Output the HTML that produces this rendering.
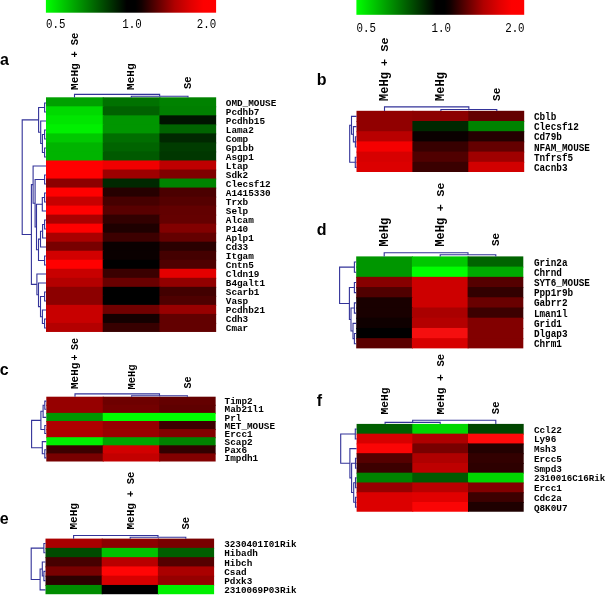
<!DOCTYPE html>
<html><head><meta charset="utf-8"><title>heatmaps</title>
<style>
html,body{margin:0;padding:0;background:#fff;}
svg{display:block;}
.rl{font-family:"Liberation Mono",monospace;font-weight:bold;fill:#000;}
.cl{font-family:"Liberation Mono",monospace;font-weight:bold;fill:#000;}
.tk{font-family:"Liberation Mono",monospace;fill:#000;}
.pl{font-family:"Liberation Sans",sans-serif;font-weight:bold;fill:#000;}
.dn path{fill:none;stroke:#333399;stroke-width:1.1;}
</style></head><body>
<svg width="605" height="595" viewBox="0 0 605 595">
<rect x="0" y="0" width="605" height="595" fill="#fff"/>
<defs><linearGradient id="g" x1="0" x2="1" y1="0" y2="0"><stop offset="0.000" stop-color="#00ff00"/><stop offset="0.475" stop-color="#000000"/><stop offset="0.525" stop-color="#000000"/><stop offset="0.562" stop-color="#120000"/><stop offset="0.660" stop-color="#620000"/><stop offset="0.757" stop-color="#b00000"/><stop offset="0.853" stop-color="#e10000"/><stop offset="0.925" stop-color="#fd0000"/><stop offset="1.000" stop-color="#ff0000"/></linearGradient></defs>
<rect x="45.9" y="0" width="170.2" height="12.7" fill="url(#g)"/>
<rect x="356.4" y="0" width="167.8" height="14.8" fill="url(#g)"/>
<text class="tk" transform="translate(46.10 28.20) scale(1 1.100)" font-size="10.80" text-anchor="start">0.5</text>
<text class="tk" transform="translate(132.00 28.20) scale(1 1.100)" font-size="10.80" text-anchor="middle">1.0</text>
<text class="tk" transform="translate(216.20 28.20) scale(1 1.100)" font-size="10.80" text-anchor="end">2.0</text>
<text class="tk" transform="translate(356.60 31.80) scale(1 1.230)" font-size="10.80" text-anchor="start">0.5</text>
<text class="tk" transform="translate(441.20 31.80) scale(1 1.230)" font-size="10.80" text-anchor="middle">1.0</text>
<text class="tk" transform="translate(524.60 31.80) scale(1 1.230)" font-size="10.80" text-anchor="end">2.0</text>
<rect x="46.00" y="97.30" width="57.72" height="10.03" fill="#00a000"/>
<rect x="102.72" y="97.30" width="57.72" height="10.03" fill="#007200"/>
<rect x="159.44" y="97.30" width="56.72" height="10.03" fill="#008200"/>
<rect x="46.00" y="106.33" width="57.72" height="10.03" fill="#00da00"/>
<rect x="102.72" y="106.33" width="57.72" height="10.03" fill="#006100"/>
<rect x="159.44" y="106.33" width="56.72" height="10.03" fill="#007f00"/>
<rect x="46.00" y="115.35" width="57.72" height="10.03" fill="#00e600"/>
<rect x="102.72" y="115.35" width="57.72" height="10.03" fill="#009600"/>
<rect x="159.44" y="115.35" width="56.72" height="10.03" fill="#001400"/>
<rect x="46.00" y="124.38" width="57.72" height="10.03" fill="#00f000"/>
<rect x="102.72" y="124.38" width="57.72" height="10.03" fill="#009600"/>
<rect x="159.44" y="124.38" width="56.72" height="10.03" fill="#006400"/>
<rect x="46.00" y="133.40" width="57.72" height="10.03" fill="#00c800"/>
<rect x="102.72" y="133.40" width="57.72" height="10.03" fill="#006e00"/>
<rect x="159.44" y="133.40" width="56.72" height="10.03" fill="#002800"/>
<rect x="46.00" y="142.43" width="57.72" height="10.03" fill="#00b400"/>
<rect x="102.72" y="142.43" width="57.72" height="10.03" fill="#006400"/>
<rect x="159.44" y="142.43" width="56.72" height="10.03" fill="#003c00"/>
<rect x="46.00" y="151.45" width="57.72" height="10.03" fill="#00b400"/>
<rect x="102.72" y="151.45" width="57.72" height="10.03" fill="#005a00"/>
<rect x="159.44" y="151.45" width="56.72" height="10.03" fill="#003700"/>
<rect x="46.00" y="160.47" width="57.72" height="10.03" fill="#ff0000"/>
<rect x="102.72" y="160.47" width="57.72" height="10.03" fill="#f00000"/>
<rect x="159.44" y="160.47" width="56.72" height="10.03" fill="#be0000"/>
<rect x="46.00" y="169.50" width="57.72" height="10.03" fill="#ff0000"/>
<rect x="102.72" y="169.50" width="57.72" height="10.03" fill="#9e0000"/>
<rect x="159.44" y="169.50" width="56.72" height="10.03" fill="#800000"/>
<rect x="46.00" y="178.53" width="57.72" height="10.03" fill="#8c0000"/>
<rect x="102.72" y="178.53" width="57.72" height="10.03" fill="#002800"/>
<rect x="159.44" y="178.53" width="56.72" height="10.03" fill="#008400"/>
<rect x="46.00" y="187.55" width="57.72" height="10.03" fill="#ff0000"/>
<rect x="102.72" y="187.55" width="57.72" height="10.03" fill="#260000"/>
<rect x="159.44" y="187.55" width="56.72" height="10.03" fill="#4b0000"/>
<rect x="46.00" y="196.57" width="57.72" height="10.03" fill="#c80000"/>
<rect x="102.72" y="196.57" width="57.72" height="10.03" fill="#460000"/>
<rect x="159.44" y="196.57" width="56.72" height="10.03" fill="#550000"/>
<rect x="46.00" y="205.60" width="57.72" height="10.03" fill="#ff0000"/>
<rect x="102.72" y="205.60" width="57.72" height="10.03" fill="#580000"/>
<rect x="159.44" y="205.60" width="56.72" height="10.03" fill="#620000"/>
<rect x="46.00" y="214.62" width="57.72" height="10.03" fill="#aa0000"/>
<rect x="102.72" y="214.62" width="57.72" height="10.03" fill="#320000"/>
<rect x="159.44" y="214.62" width="56.72" height="10.03" fill="#640000"/>
<rect x="46.00" y="223.65" width="57.72" height="10.03" fill="#ff0000"/>
<rect x="102.72" y="223.65" width="57.72" height="10.03" fill="#1e0000"/>
<rect x="159.44" y="223.65" width="56.72" height="10.03" fill="#820000"/>
<rect x="46.00" y="232.68" width="57.72" height="10.03" fill="#aa0000"/>
<rect x="102.72" y="232.68" width="57.72" height="10.03" fill="#3c0000"/>
<rect x="159.44" y="232.68" width="56.72" height="10.03" fill="#640000"/>
<rect x="46.00" y="241.70" width="57.72" height="10.03" fill="#780000"/>
<rect x="102.72" y="241.70" width="57.72" height="10.03" fill="#0a0000"/>
<rect x="159.44" y="241.70" width="56.72" height="10.03" fill="#2a0000"/>
<rect x="46.00" y="250.73" width="57.72" height="10.03" fill="#d20000"/>
<rect x="102.72" y="250.73" width="57.72" height="10.03" fill="#0a0000"/>
<rect x="159.44" y="250.73" width="56.72" height="10.03" fill="#440000"/>
<rect x="46.00" y="259.75" width="57.72" height="10.03" fill="#ff0000"/>
<rect x="102.72" y="259.75" width="57.72" height="10.03" fill="#000000"/>
<rect x="159.44" y="259.75" width="56.72" height="10.03" fill="#4e0000"/>
<rect x="46.00" y="268.77" width="57.72" height="10.03" fill="#c80000"/>
<rect x="102.72" y="268.77" width="57.72" height="10.03" fill="#3a0000"/>
<rect x="159.44" y="268.77" width="56.72" height="10.03" fill="#e40000"/>
<rect x="46.00" y="277.80" width="57.72" height="10.03" fill="#b40000"/>
<rect x="102.72" y="277.80" width="57.72" height="10.03" fill="#690000"/>
<rect x="159.44" y="277.80" width="56.72" height="10.03" fill="#920000"/>
<rect x="46.00" y="286.82" width="57.72" height="10.03" fill="#8c0000"/>
<rect x="102.72" y="286.82" width="57.72" height="10.03" fill="#000000"/>
<rect x="159.44" y="286.82" width="56.72" height="10.03" fill="#420000"/>
<rect x="46.00" y="295.85" width="57.72" height="10.03" fill="#8c0000"/>
<rect x="102.72" y="295.85" width="57.72" height="10.03" fill="#000000"/>
<rect x="159.44" y="295.85" width="56.72" height="10.03" fill="#4e0000"/>
<rect x="46.00" y="304.88" width="57.72" height="10.03" fill="#c80000"/>
<rect x="102.72" y="304.88" width="57.72" height="10.03" fill="#700000"/>
<rect x="159.44" y="304.88" width="56.72" height="10.03" fill="#980000"/>
<rect x="46.00" y="313.90" width="57.72" height="10.03" fill="#c80000"/>
<rect x="102.72" y="313.90" width="57.72" height="10.03" fill="#140000"/>
<rect x="159.44" y="313.90" width="56.72" height="10.03" fill="#620000"/>
<rect x="46.00" y="322.93" width="57.72" height="9.03" fill="#b40000"/>
<rect x="102.72" y="322.93" width="57.72" height="9.03" fill="#370000"/>
<rect x="159.44" y="322.93" width="56.72" height="9.03" fill="#620000"/>
<text class="rl" transform="translate(225.80 105.62) scale(1 1.000)" font-size="9.35">OMD_MOUSE</text>
<text class="rl" transform="translate(225.80 114.65) scale(1 1.000)" font-size="9.35">Pcdhb7</text>
<text class="rl" transform="translate(225.80 123.67) scale(1 1.000)" font-size="9.35">Pcdhb15</text>
<text class="rl" transform="translate(225.80 132.70) scale(1 1.000)" font-size="9.35">Lama2</text>
<text class="rl" transform="translate(225.80 141.73) scale(1 1.000)" font-size="9.35">Comp</text>
<text class="rl" transform="translate(225.80 150.75) scale(1 1.000)" font-size="9.35">Gp1bb</text>
<text class="rl" transform="translate(225.80 159.78) scale(1 1.000)" font-size="9.35">Asgp1</text>
<text class="rl" transform="translate(225.80 168.80) scale(1 1.000)" font-size="9.35">Ltap</text>
<text class="rl" transform="translate(225.80 177.83) scale(1 1.000)" font-size="9.35">Sdk2</text>
<text class="rl" transform="translate(225.80 186.85) scale(1 1.000)" font-size="9.35">Clecsf12</text>
<text class="rl" transform="translate(225.80 195.88) scale(1 1.000)" font-size="9.35">A1415330</text>
<text class="rl" transform="translate(225.80 204.90) scale(1 1.000)" font-size="9.35">Trxb</text>
<text class="rl" transform="translate(225.80 213.93) scale(1 1.000)" font-size="9.35">Selp</text>
<text class="rl" transform="translate(225.80 222.95) scale(1 1.000)" font-size="9.35">Alcam</text>
<text class="rl" transform="translate(225.80 231.98) scale(1 1.000)" font-size="9.35">P140</text>
<text class="rl" transform="translate(225.80 241.00) scale(1 1.000)" font-size="9.35">Aplp1</text>
<text class="rl" transform="translate(225.80 250.03) scale(1 1.000)" font-size="9.35">Cd33</text>
<text class="rl" transform="translate(225.80 259.05) scale(1 1.000)" font-size="9.35">Itgam</text>
<text class="rl" transform="translate(225.80 268.07) scale(1 1.000)" font-size="9.35">Cntn5</text>
<text class="rl" transform="translate(225.80 277.10) scale(1 1.000)" font-size="9.35">Cldn19</text>
<text class="rl" transform="translate(225.80 286.12) scale(1 1.000)" font-size="9.35">B4galt1</text>
<text class="rl" transform="translate(225.80 295.15) scale(1 1.000)" font-size="9.35">Scarb1</text>
<text class="rl" transform="translate(225.80 304.18) scale(1 1.000)" font-size="9.35">Vasp</text>
<text class="rl" transform="translate(225.80 313.20) scale(1 1.000)" font-size="9.35">Pcdhb21</text>
<text class="rl" transform="translate(225.80 322.23) scale(1 1.000)" font-size="9.35">Cdh3</text>
<text class="rl" transform="translate(225.80 331.25) scale(1 1.000)" font-size="9.35">Cmar</text>
<g class="dn">
<path d="M46.00 103.00H44.60V112.00H46.00"/>
<path d="M46.00 130.00H44.60V139.00H46.00"/>
<path d="M46.00 148.00H44.60V157.00H46.00"/>
<path d="M44.60 134.50H42.40V152.50H44.60"/>
<path d="M46.00 121.00H40.70V143.50H42.40"/>
<path d="M44.60 107.50H38.60V132.25H40.70"/>
<path d="M46.00 175.00H44.60V184.00H46.00"/>
<path d="M46.00 193.00H44.60V202.00H46.00"/>
<path d="M44.60 197.50H42.30V211.00H46.00"/>
<path d="M46.00 220.00H44.60V229.00H46.00"/>
<path d="M44.60 224.50H42.60V238.00H46.00"/>
<path d="M42.60 231.25H40.50V247.00H46.00"/>
<path d="M46.00 256.00H44.60V265.00H46.00"/>
<path d="M40.50 239.12H38.50V260.50H44.60"/>
<path d="M42.30 204.25H36.50V249.81H38.50"/>
<path d="M44.60 179.50H35.10V227.03H36.50"/>
<path d="M46.00 166.00H33.10V203.27H35.10"/>
<path d="M46.00 292.00H44.60V301.00H46.00"/>
<path d="M46.00 319.00H44.60V328.00H46.00"/>
<path d="M46.00 310.00H42.40V323.50H44.60"/>
<path d="M44.60 296.50H40.50V316.75H42.40"/>
<path d="M46.00 283.00H38.50V306.62H40.50"/>
<path d="M46.00 274.00H36.90V294.81H38.50"/>
<path d="M33.10 184.63H31.40V284.41H36.90"/>
<path d="M38.60 119.88H22.20V234.52H31.40"/>
<path d="M131.30 97.40V96.20H188.00V97.40"/>
<path d="M74.50 97.40V94.40H159.65V96.20"/>
</g>
<text class="cl" font-size="11.10" transform="translate(77.80 89.90) rotate(-90)" >MeHg</text>
<text class="cl" font-size="10.60" transform="translate(77.80 57.50) rotate(-90)" >+</text>
<text class="cl" font-size="10.60" transform="translate(77.80 45.30) rotate(-90)" >Se</text>
<text class="cl" font-size="11.00" transform="translate(134.00 89.90) rotate(-90)" >MeHg</text>
<text class="cl" font-size="10.60" transform="translate(191.40 89.00) rotate(-90)" >Se</text>
<text class="pl" x="-0.10" y="65.00" font-size="16.00">a</text>
<rect x="356.50" y="110.80" width="56.90" height="11.20" fill="#910000"/>
<rect x="412.40" y="110.80" width="56.90" height="11.20" fill="#8c0000"/>
<rect x="468.30" y="110.80" width="55.90" height="11.20" fill="#640000"/>
<rect x="356.50" y="121.00" width="56.90" height="11.20" fill="#910000"/>
<rect x="412.40" y="121.00" width="56.90" height="11.20" fill="#002800"/>
<rect x="468.30" y="121.00" width="55.90" height="11.20" fill="#008200"/>
<rect x="356.50" y="131.20" width="56.90" height="11.20" fill="#b90000"/>
<rect x="412.40" y="131.20" width="56.90" height="11.20" fill="#0a0000"/>
<rect x="468.30" y="131.20" width="55.90" height="11.20" fill="#240000"/>
<rect x="356.50" y="141.40" width="56.90" height="11.20" fill="#f50000"/>
<rect x="412.40" y="141.40" width="56.90" height="11.20" fill="#370000"/>
<rect x="468.30" y="141.40" width="55.90" height="11.20" fill="#640000"/>
<rect x="356.50" y="151.60" width="56.90" height="11.20" fill="#d70000"/>
<rect x="412.40" y="151.60" width="56.90" height="11.20" fill="#500000"/>
<rect x="468.30" y="151.60" width="55.90" height="11.20" fill="#a00000"/>
<rect x="356.50" y="161.80" width="56.90" height="10.20" fill="#dc0000"/>
<rect x="412.40" y="161.80" width="56.90" height="10.20" fill="#3a0000"/>
<rect x="468.30" y="161.80" width="55.90" height="10.20" fill="#d20000"/>
<text class="rl" transform="translate(533.90 119.90) scale(1 1.080)" font-size="9.35">Cblb</text>
<text class="rl" transform="translate(533.90 130.10) scale(1 1.080)" font-size="9.35">Clecsf12</text>
<text class="rl" transform="translate(533.90 140.30) scale(1 1.080)" font-size="9.35">Cd79b</text>
<text class="rl" transform="translate(533.90 150.50) scale(1 1.080)" font-size="9.35">NFAM_MOUSE</text>
<text class="rl" transform="translate(533.90 160.70) scale(1 1.080)" font-size="9.35">Tnfrsf5</text>
<text class="rl" transform="translate(533.90 170.90) scale(1 1.080)" font-size="9.35">Cacnb3</text>
<g class="dn">
<path d="M356.50 136.80H355.40V147.00H356.50"/>
<path d="M356.50 126.60H353.40V141.90H355.40"/>
<path d="M356.50 116.40H351.50V134.25H353.40"/>
<path d="M356.50 157.20H355.30V167.40H356.50"/>
<path d="M351.50 125.32H349.70V162.30H355.30"/>
<path d="M440.90 110.90V109.50H496.80V110.90"/>
<path d="M384.50 110.90V106.90H468.85V109.50"/>
</g>
<text class="cl" font-size="12.00" transform="translate(387.80 100.90) rotate(-90)" >MeHg</text>
<text class="cl" font-size="11.60" transform="translate(387.80 66.00) rotate(-90)" >+</text>
<text class="cl" font-size="11.60" transform="translate(387.80 51.50) rotate(-90)" >Se</text>
<text class="cl" font-size="12.00" transform="translate(443.60 100.90) rotate(-90)" >MeHg</text>
<text class="cl" font-size="11.10" transform="translate(500.00 101.00) rotate(-90)" >Se</text>
<text class="pl" x="316.70" y="84.60" font-size="16.00">b</text>
<rect x="46.30" y="396.70" width="57.45" height="9.10" fill="#960000"/>
<rect x="102.75" y="396.70" width="57.45" height="9.10" fill="#6e0000"/>
<rect x="159.20" y="396.70" width="56.45" height="9.10" fill="#640000"/>
<rect x="46.30" y="404.80" width="57.45" height="9.10" fill="#960000"/>
<rect x="102.75" y="404.80" width="57.45" height="9.10" fill="#730000"/>
<rect x="159.20" y="404.80" width="56.45" height="9.10" fill="#5f0000"/>
<rect x="46.30" y="412.90" width="57.45" height="9.10" fill="#009600"/>
<rect x="102.75" y="412.90" width="57.45" height="9.10" fill="#00ff00"/>
<rect x="159.20" y="412.90" width="56.45" height="9.10" fill="#00ff00"/>
<rect x="46.30" y="421.00" width="57.45" height="9.10" fill="#af0000"/>
<rect x="102.75" y="421.00" width="57.45" height="9.10" fill="#960000"/>
<rect x="159.20" y="421.00" width="56.45" height="9.10" fill="#3c0000"/>
<rect x="46.30" y="429.10" width="57.45" height="9.10" fill="#af0000"/>
<rect x="102.75" y="429.10" width="57.45" height="9.10" fill="#9b0000"/>
<rect x="159.20" y="429.10" width="56.45" height="9.10" fill="#820000"/>
<rect x="46.30" y="437.20" width="57.45" height="9.10" fill="#00f000"/>
<rect x="102.75" y="437.20" width="57.45" height="9.10" fill="#00a500"/>
<rect x="159.20" y="437.20" width="56.45" height="9.10" fill="#008200"/>
<rect x="46.30" y="445.30" width="57.45" height="9.10" fill="#3c0000"/>
<rect x="102.75" y="445.30" width="57.45" height="9.10" fill="#d20000"/>
<rect x="159.20" y="445.30" width="56.45" height="9.10" fill="#320000"/>
<rect x="46.30" y="453.40" width="57.45" height="8.10" fill="#780000"/>
<rect x="102.75" y="453.40" width="57.45" height="8.10" fill="#c30000"/>
<rect x="159.20" y="453.40" width="56.45" height="8.10" fill="#820000"/>
<text class="rl" transform="translate(224.60 404.30) scale(1 0.900)" font-size="9.35">Timp2</text>
<text class="rl" transform="translate(224.60 412.40) scale(1 0.900)" font-size="9.35">Mab21l1</text>
<text class="rl" transform="translate(224.60 420.50) scale(1 0.900)" font-size="9.35">Prl</text>
<text class="rl" transform="translate(224.60 428.60) scale(1 0.900)" font-size="9.35">MET_MOUSE</text>
<text class="rl" transform="translate(224.60 436.70) scale(1 0.900)" font-size="9.35">Ercc1</text>
<text class="rl" transform="translate(224.60 444.80) scale(1 0.900)" font-size="9.35">Scap2</text>
<text class="rl" transform="translate(224.60 452.90) scale(1 0.900)" font-size="9.35">Pax6</text>
<text class="rl" transform="translate(224.60 461.00) scale(1 0.900)" font-size="9.35">Impdh1</text>
<g class="dn">
<path d="M46.30 401.15H44.80V409.25H46.30"/>
<path d="M44.80 405.20H43.10V417.35H46.30"/>
<path d="M46.30 425.45H44.80V433.55H46.30"/>
<path d="M43.10 411.27H40.90V429.50H44.80"/>
<path d="M46.30 449.75H44.80V457.85H46.30"/>
<path d="M46.30 441.65H42.30V453.80H44.80"/>
<path d="M40.90 420.39H31.60V447.72H42.30"/>
<path d="M131.60 396.80V395.70H187.40V396.80"/>
<path d="M75.00 396.80V393.90H159.50V395.70"/>
</g>
<text class="cl" font-size="11.00" transform="translate(78.00 389.00) rotate(-90)" >MeHg</text>
<text class="cl" font-size="10.20" transform="translate(78.00 360.40) rotate(-90)" >+</text>
<text class="cl" font-size="10.20" transform="translate(78.00 350.00) rotate(-90)" >Se</text>
<text class="cl" font-size="10.40" transform="translate(134.80 389.40) rotate(-90)" >MeHg</text>
<text class="cl" font-size="10.20" transform="translate(191.20 388.60) rotate(-90)" >Se</text>
<text class="pl" x="-0.20" y="374.70" font-size="16.00">c</text>
<rect x="356.20" y="256.40" width="56.70" height="11.22" fill="#009600"/>
<rect x="411.90" y="256.40" width="56.70" height="11.22" fill="#00c800"/>
<rect x="467.60" y="256.40" width="55.70" height="11.22" fill="#006400"/>
<rect x="356.20" y="266.62" width="56.70" height="11.22" fill="#009600"/>
<rect x="411.90" y="266.62" width="56.70" height="11.22" fill="#00ff00"/>
<rect x="467.60" y="266.62" width="55.70" height="11.22" fill="#00aa00"/>
<rect x="356.20" y="276.84" width="56.70" height="11.22" fill="#870000"/>
<rect x="411.90" y="276.84" width="56.70" height="11.22" fill="#cd0000"/>
<rect x="467.60" y="276.84" width="55.70" height="11.22" fill="#550000"/>
<rect x="356.20" y="287.06" width="56.70" height="11.22" fill="#500000"/>
<rect x="411.90" y="287.06" width="56.70" height="11.22" fill="#cd0000"/>
<rect x="467.60" y="287.06" width="55.70" height="11.22" fill="#320000"/>
<rect x="356.20" y="297.28" width="56.70" height="11.22" fill="#190000"/>
<rect x="411.90" y="297.28" width="56.70" height="11.22" fill="#cd0000"/>
<rect x="467.60" y="297.28" width="55.70" height="11.22" fill="#690000"/>
<rect x="356.20" y="307.50" width="56.70" height="11.22" fill="#190000"/>
<rect x="411.90" y="307.50" width="56.70" height="11.22" fill="#aa0000"/>
<rect x="467.60" y="307.50" width="55.70" height="11.22" fill="#3c0000"/>
<rect x="356.20" y="317.72" width="56.70" height="11.22" fill="#0f0000"/>
<rect x="411.90" y="317.72" width="56.70" height="11.22" fill="#b40000"/>
<rect x="467.60" y="317.72" width="55.70" height="11.22" fill="#820000"/>
<rect x="356.20" y="327.94" width="56.70" height="11.22" fill="#000000"/>
<rect x="411.90" y="327.94" width="56.70" height="11.22" fill="#f50f0f"/>
<rect x="467.60" y="327.94" width="55.70" height="11.22" fill="#820000"/>
<rect x="356.20" y="338.16" width="56.70" height="10.22" fill="#5a0000"/>
<rect x="411.90" y="338.16" width="56.70" height="10.22" fill="#d70000"/>
<rect x="467.60" y="338.16" width="55.70" height="10.22" fill="#820000"/>
<text class="rl" transform="translate(533.90 265.52) scale(1 1.080)" font-size="9.35">Grin2a</text>
<text class="rl" transform="translate(533.90 275.74) scale(1 1.080)" font-size="9.35">Chrnd</text>
<text class="rl" transform="translate(533.90 285.96) scale(1 1.080)" font-size="9.35">SYT6_MOUSE</text>
<text class="rl" transform="translate(533.90 296.18) scale(1 1.080)" font-size="9.35">Ppp1r9b</text>
<text class="rl" transform="translate(533.90 306.40) scale(1 1.080)" font-size="9.35">Gabrr2</text>
<text class="rl" transform="translate(533.90 316.62) scale(1 1.080)" font-size="9.35">Lman1l</text>
<text class="rl" transform="translate(533.90 326.84) scale(1 1.080)" font-size="9.35">Grid1</text>
<text class="rl" transform="translate(533.90 337.06) scale(1 1.080)" font-size="9.35">Dlgap3</text>
<text class="rl" transform="translate(533.90 347.28) scale(1 1.080)" font-size="9.35">Chrm1</text>
<g class="dn">
<path d="M356.20 262.01H354.40V272.23H356.20"/>
<path d="M356.20 282.45H354.40V292.67H356.20"/>
<path d="M356.20 302.89H354.40V313.11H356.20"/>
<path d="M356.20 333.55H354.40V343.77H356.20"/>
<path d="M356.20 323.33H353.00V338.66H354.40"/>
<path d="M354.40 308.00H351.00V331.00H353.00"/>
<path d="M354.40 287.56H349.40V319.50H351.00"/>
<path d="M354.40 267.12H339.60V303.53H349.40"/>
<path d="M440.20 256.60V254.80H495.80V256.60"/>
<path d="M384.20 256.60V252.70H468.00V254.80"/>
</g>
<text class="cl" font-size="12.00" transform="translate(387.50 246.60) rotate(-90)" >MeHg</text>
<text class="cl" font-size="12.00" transform="translate(443.80 246.60) rotate(-90)" >MeHg</text>
<text class="cl" font-size="11.60" transform="translate(443.80 211.30) rotate(-90)" >+</text>
<text class="cl" font-size="11.40" transform="translate(443.80 196.40) rotate(-90)" >Se</text>
<text class="cl" font-size="11.00" transform="translate(499.40 246.00) rotate(-90)" >Se</text>
<text class="pl" x="316.80" y="235.00" font-size="16.00">d</text>
<rect x="45.50" y="538.60" width="57.20" height="10.27" fill="#aa0000"/>
<rect x="101.70" y="538.60" width="57.20" height="10.27" fill="#8c0000"/>
<rect x="157.90" y="538.60" width="56.20" height="10.27" fill="#780000"/>
<rect x="45.50" y="547.87" width="57.20" height="10.27" fill="#004b00"/>
<rect x="101.70" y="547.87" width="57.20" height="10.27" fill="#00c300"/>
<rect x="157.90" y="547.87" width="56.20" height="10.27" fill="#005f00"/>
<rect x="45.50" y="557.14" width="57.20" height="10.27" fill="#460000"/>
<rect x="101.70" y="557.14" width="57.20" height="10.27" fill="#b90000"/>
<rect x="157.90" y="557.14" width="56.20" height="10.27" fill="#550000"/>
<rect x="45.50" y="566.41" width="57.20" height="10.27" fill="#780000"/>
<rect x="101.70" y="566.41" width="57.20" height="10.27" fill="#ff0505"/>
<rect x="157.90" y="566.41" width="56.20" height="10.27" fill="#aa0000"/>
<rect x="45.50" y="575.68" width="57.20" height="10.27" fill="#2d0000"/>
<rect x="101.70" y="575.68" width="57.20" height="10.27" fill="#d70000"/>
<rect x="157.90" y="575.68" width="56.20" height="10.27" fill="#960000"/>
<rect x="45.50" y="584.95" width="57.20" height="9.27" fill="#008c00"/>
<rect x="101.70" y="584.95" width="57.20" height="9.27" fill="#000000"/>
<rect x="157.90" y="584.95" width="56.20" height="9.27" fill="#00f000"/>
<text class="rl" transform="translate(224.20 547.07) scale(1 1.000)" font-size="9.35" textLength="72.4" lengthAdjust="spacingAndGlyphs">3230401I01Rik</text>
<text class="rl" transform="translate(224.20 556.34) scale(1 1.000)" font-size="9.35">Hibadh</text>
<text class="rl" transform="translate(224.20 565.61) scale(1 1.000)" font-size="9.35">Hibch</text>
<text class="rl" transform="translate(224.20 574.88) scale(1 1.000)" font-size="9.35">Csad</text>
<text class="rl" transform="translate(224.20 584.15) scale(1 1.000)" font-size="9.35">Pdxk3</text>
<text class="rl" transform="translate(224.20 593.42) scale(1 1.000)" font-size="9.35" textLength="72.4" lengthAdjust="spacingAndGlyphs">2310069P03Rik</text>
<g class="dn">
<path d="M45.50 543.53H43.90V552.80H45.50"/>
<path d="M45.50 571.35H43.90V580.62H45.50"/>
<path d="M45.50 562.07H42.30V575.98H43.90"/>
<path d="M42.30 569.03H40.10V589.88H45.50"/>
<path d="M43.90 548.17H31.20V579.46H40.10"/>
<path d="M130.20 538.70V537.30H185.80V538.70"/>
<path d="M73.60 538.70V535.50H158.00V537.30"/>
</g>
<text class="cl" font-size="11.10" transform="translate(77.20 529.60) rotate(-90)" >MeHg</text>
<text class="cl" font-size="11.10" transform="translate(133.50 529.60) rotate(-90)" >MeHg</text>
<text class="cl" font-size="10.40" transform="translate(133.50 497.00) rotate(-90)" >+</text>
<text class="cl" font-size="10.40" transform="translate(133.50 484.30) rotate(-90)" >Se</text>
<text class="cl" font-size="10.40" transform="translate(189.20 529.60) rotate(-90)" >Se</text>
<text class="pl" x="-0.20" y="523.50" font-size="16.00">e</text>
<rect x="356.60" y="423.90" width="56.70" height="10.76" fill="#005f00"/>
<rect x="412.30" y="423.90" width="56.70" height="10.76" fill="#00d700"/>
<rect x="468.00" y="423.90" width="55.70" height="10.76" fill="#004600"/>
<rect x="356.60" y="433.66" width="56.70" height="10.76" fill="#d70000"/>
<rect x="412.30" y="433.66" width="56.70" height="10.76" fill="#af0000"/>
<rect x="468.00" y="433.66" width="55.70" height="10.76" fill="#ff0a0a"/>
<rect x="356.60" y="443.42" width="56.70" height="10.76" fill="#fa0505"/>
<rect x="412.30" y="443.42" width="56.70" height="10.76" fill="#780000"/>
<rect x="468.00" y="443.42" width="55.70" height="10.76" fill="#230000"/>
<rect x="356.60" y="453.18" width="56.70" height="10.76" fill="#550000"/>
<rect x="412.30" y="453.18" width="56.70" height="10.76" fill="#af0000"/>
<rect x="468.00" y="453.18" width="55.70" height="10.76" fill="#320000"/>
<rect x="356.60" y="462.94" width="56.70" height="10.76" fill="#3c0000"/>
<rect x="412.30" y="462.94" width="56.70" height="10.76" fill="#be0000"/>
<rect x="468.00" y="462.94" width="55.70" height="10.76" fill="#2d0000"/>
<rect x="356.60" y="472.70" width="56.70" height="10.76" fill="#008200"/>
<rect x="412.30" y="472.70" width="56.70" height="10.76" fill="#005a00"/>
<rect x="468.00" y="472.70" width="55.70" height="10.76" fill="#00d700"/>
<rect x="356.60" y="482.46" width="56.70" height="10.76" fill="#960000"/>
<rect x="412.30" y="482.46" width="56.70" height="10.76" fill="#b90000"/>
<rect x="468.00" y="482.46" width="55.70" height="10.76" fill="#820000"/>
<rect x="356.60" y="492.22" width="56.70" height="10.76" fill="#dc0000"/>
<rect x="412.30" y="492.22" width="56.70" height="10.76" fill="#e10000"/>
<rect x="468.00" y="492.22" width="55.70" height="10.76" fill="#3c0000"/>
<rect x="356.60" y="501.98" width="56.70" height="9.76" fill="#dc0000"/>
<rect x="412.30" y="501.98" width="56.70" height="9.76" fill="#fa0505"/>
<rect x="468.00" y="501.98" width="55.70" height="9.76" fill="#1e0000"/>
<text class="rl" transform="translate(533.90 432.66) scale(1 1.040)" font-size="9.35">Ccl22</text>
<text class="rl" transform="translate(533.90 442.42) scale(1 1.040)" font-size="9.35">Ly96</text>
<text class="rl" transform="translate(533.90 452.18) scale(1 1.040)" font-size="9.35">Msh3</text>
<text class="rl" transform="translate(533.90 461.94) scale(1 1.040)" font-size="9.35">Ercc5</text>
<text class="rl" transform="translate(533.90 471.70) scale(1 1.040)" font-size="9.35">Smpd3</text>
<text class="rl" transform="translate(533.90 481.46) scale(1 1.040)" font-size="9.35" textLength="71.3" lengthAdjust="spacingAndGlyphs">2310016C16Rik</text>
<text class="rl" transform="translate(533.90 491.22) scale(1 1.040)" font-size="9.35">Ercc1</text>
<text class="rl" transform="translate(533.90 500.98) scale(1 1.040)" font-size="9.35">Cdc2a</text>
<text class="rl" transform="translate(533.90 510.74) scale(1 1.040)" font-size="9.35">Q8K0U7</text>
<g class="dn">
<path d="M356.60 429.08H355.30V438.84H356.60"/>
<path d="M356.60 458.36H355.50V468.12H356.60"/>
<path d="M356.60 477.88H355.50V487.64H356.60"/>
<path d="M356.60 497.40H355.50V507.16H356.60"/>
<path d="M355.50 482.76H353.70V502.28H355.50"/>
<path d="M355.50 463.24H351.60V492.52H353.70"/>
<path d="M356.60 448.60H349.90V477.88H351.60"/>
<path d="M355.30 433.96H340.70V463.24H349.90"/>
<path d="M385.10 424.00V422.40H440.20V424.00"/>
<path d="M412.65 422.40V420.30H495.80V424.00"/>
</g>
<text class="cl" font-size="11.20" transform="translate(388.40 414.40) rotate(-90)" >MeHg</text>
<text class="cl" font-size="11.20" transform="translate(443.90 414.40) rotate(-90)" >MeHg</text>
<text class="cl" font-size="11.20" transform="translate(443.90 380.90) rotate(-90)" >+</text>
<text class="cl" font-size="10.60" transform="translate(443.90 366.60) rotate(-90)" >Se</text>
<text class="cl" font-size="10.60" transform="translate(499.40 414.20) rotate(-90)" >Se</text>
<text class="pl" x="316.80" y="405.60" font-size="16.00">f</text>
</svg>
</body></html>
